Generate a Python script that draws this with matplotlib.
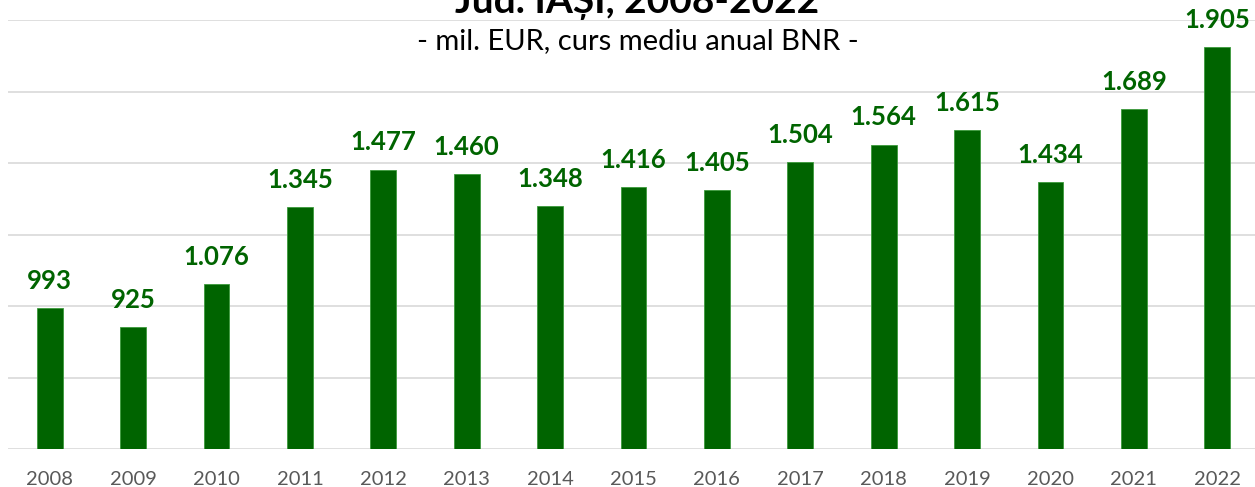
import matplotlib.pyplot as plt
from matplotlib.ticker import MultipleLocator

# Data
years = ["2008", "2009", "2010", "2011", "2012", "2013", "2014", "2015",
         "2016", "2017", "2018", "2019", "2020", "2021", "2022"]
values = [993, 925, 1076, 1345, 1477, 1460, 1348, 1416,
          1405, 1504, 1564, 1615, 1434, 1689, 1905]
labels = ["993", "925", "1.076", "1.345", "1.477", "1.460", "1.348", "1.416",
          "1.405", "1.504", "1.564", "1.615", "1.434", "1.689", "1.905"]

green = "#006400"
plt.rcParams["font.family"] = ["Lato", "DejaVu Sans"]

W, H = 1255, 487
fig = plt.figure(figsize=(W / 100, H / 100), dpi=100)
ax = fig.add_axes([8 / W, 38 / H, 1251 / W, 429 / H])

x = list(range(len(years)))
ax.bar(x, values, width=0.31, color=green, edgecolor="#3c9a3c", linewidth=0.6, zorder=3)

for xi, v, lab in zip(x, values, labels):
    ax.annotate(lab, (xi, v), xytext=(0, 11), textcoords="offset points",
                ha="center", va="bottom", fontsize=18.5, fontweight="bold",
                color=green, zorder=4)

ax.set_xlim(-0.5, len(years) - 0.5)
ax.set_ylim(500, 2000)
ax.yaxis.set_major_locator(MultipleLocator(250))
ax.grid(axis="y", color="#d9d9d9", linewidth=1.2, zorder=0)
ax.set_axisbelow(True)
for s in ax.spines.values():
    s.set_visible(False)
ax.tick_params(axis="y", left=False, labelleft=False)
ax.tick_params(axis="x", length=0, pad=16, labelsize=14.5, labelcolor="#595959")
ax.set_xticks(x)
ax.set_xticklabels(years)

fig.text(637 / W, 1 - 13 / H, "Jud. IAȘI, 2008-2022", ha="center", va="baseline",
         fontsize=28, fontweight="bold", color="black")
fig.text(638 / W, 1 - 49 / H, "- mil. EUR, curs mediu anual BNR -", ha="center",
         va="baseline", fontsize=21, color="black")

fig.savefig("out.png", dpi=100)
